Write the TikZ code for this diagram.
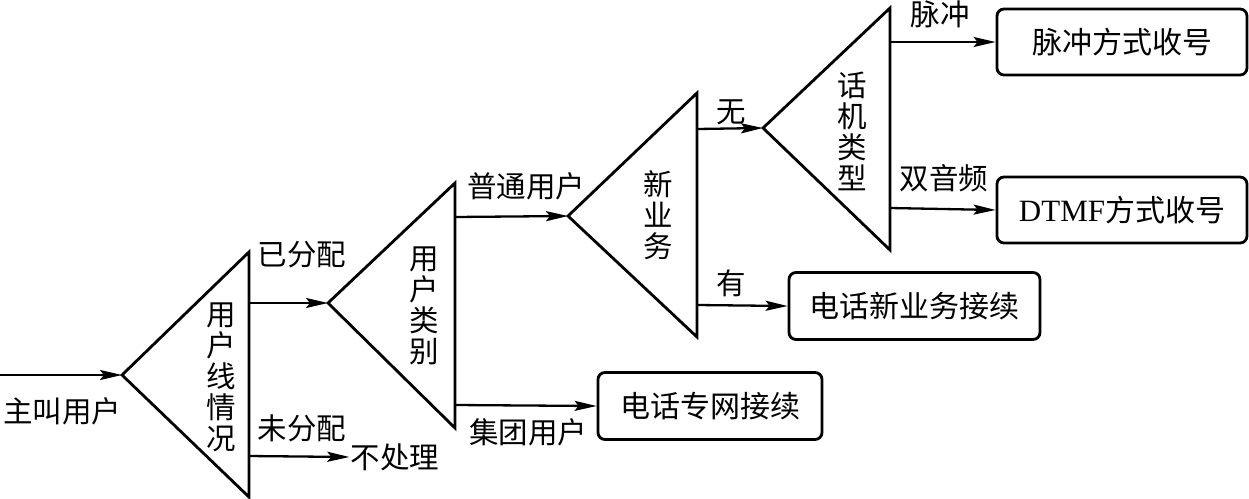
\documentclass[tikz,border=0pt]{standalone}
\usepackage{fontspec}
\setmainfont{Liberation Serif}
\newfontfamily\cjk{Noto Sans CJK SC}
\usetikzlibrary{arrows.meta}
\begin{document}
\begin{tikzpicture}[x=1pt,y=-1pt,
  line width=2.8pt, line join=miter,
  arr/.style={line width=2.3pt,-{Stealth[length=22pt,width=10pt,inset=4pt]}},
  box/.style={draw,line width=2.8pt,rounded corners=7pt,inner sep=0pt,font=\cjk\fontsize{30}{31}\selectfont},
  lab/.style={inner sep=0pt,font=\cjk\fontsize{29.5}{31}\selectfont},
  vlab/.style={inner sep=0pt,align=center,font=\cjk\fontsize{29.5}{31}\selectfont}]
\useasboundingbox (0,0) rectangle (1249,498);
% triangle 1
\coordinate (t1) at (122,375);
\coordinate (t1top) at (249,252);
\coordinate (t1bot) at (249,497);
\coordinate (t1a) at (249,303);
\coordinate (t1b) at (249,456);
\draw (t1top) -- (t1) -- (t1bot) -- cycle;
% triangle 2
\coordinate (t2) at (328,303);
\coordinate (t2top) at (455,183);
\coordinate (t2bot) at (455,428);
\coordinate (t2a) at (455,217);
\coordinate (t2b) at (455,405);
\draw (t2top) -- (t2) -- (t2bot) -- cycle;
% triangle 3
\coordinate (t3) at (568,216);
\coordinate (t3top) at (697,93);
\coordinate (t3bot) at (697,337);
\coordinate (t3a) at (697,129);
\coordinate (t3b) at (697,305);
\draw (t3top) -- (t3) -- (t3bot) -- cycle;
% triangle 4
\coordinate (t4) at (763,128);
\coordinate (t4top) at (890,8);
\coordinate (t4bot) at (890,250);
\coordinate (t4a) at (890,42);
\coordinate (t4b) at (890,208);
\draw (t4top) -- (t4) -- (t4bot) -- cycle;
% boxes
\node[box,minimum width=250pt,minimum height=66pt] (b1) at (1122,42) {脉冲方式收号};
\node[box,minimum width=250pt,minimum height=66pt] (b2) at (1122,210) {{\rmfamily\fontsize{31}{31}\selectfont DTMF}方式收号};
\node[box,minimum width=251pt,minimum height=67pt] (b3) at (914.5,306) {电话新业务接续};
\node[box,minimum width=224pt,minimum height=67pt] (b4) at (710,406) {电话专网接续};
\node[lab] (np) at (395,457) {不处理};
% input
\coordinate (in) at (0,375);
\draw[arr] (in) -- (t1);
% connectors
\draw[arr] (t1a) -- (t2);
\draw[arr] (t1b) -- (np.west);
\draw[arr] (t2a) -- (t3);
\draw[arr] (t2b) -- (b4.west);
\draw[arr] (t3a) -- (t4);
\draw[arr] (t3b) -- (b3.west);
\draw[arr] (t4a) -- (b1.west);
\draw[arr] (t4b) -- (b2.west);
% labels
\node[lab] (l0) at (62,411) {主叫用户};
\node[lab] (l1) at (302,255) {已分配};
\node[lab] (l2) at (302,428) {未分配};
\node[lab] (l3) at (526,186) {普通用户};
\node[lab] (l4) at (528,432) {集团用户};
\node[lab] (l5) at (731,112) {无};
\node[lab] (l6) at (731,283) {有};
\node[lab] (l7) at (940,14) {脉冲};
\node[lab] (l8) at (944,178) {双音频};
% vertical labels
\node[vlab] (v1) at (221,377) {用\\户\\线\\情\\况};
\node[vlab] (v2) at (424,306) {用\\户\\类\\别};
\node[vlab] (v3) at (658,215) {新\\业\\务};
\node[vlab] (v4) at (852,131) {话\\机\\类\\型};
\end{tikzpicture}
\end{document}
